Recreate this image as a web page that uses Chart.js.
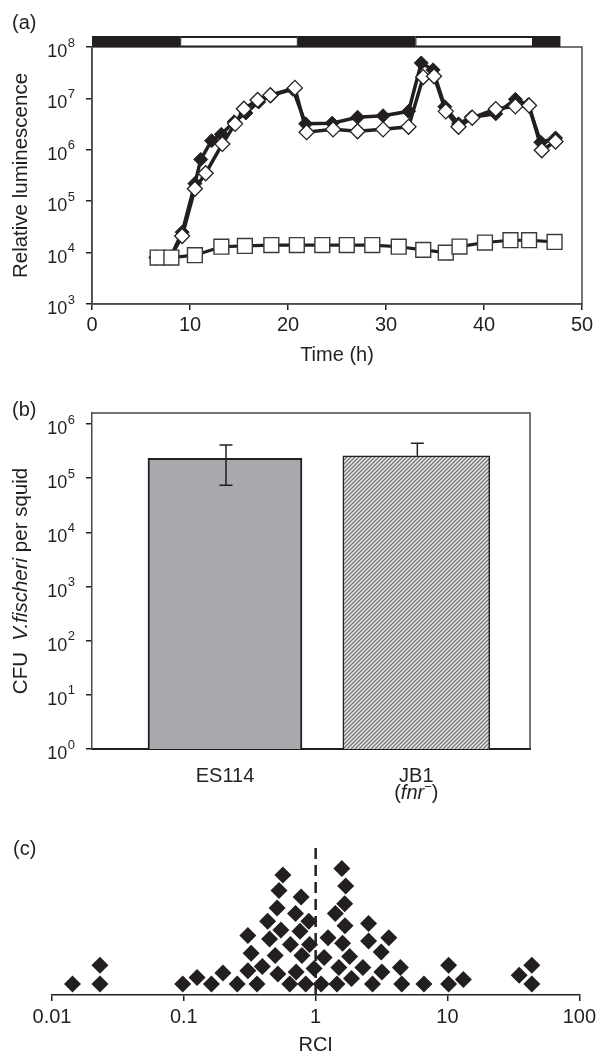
<!DOCTYPE html>
<html>
<head>
<meta charset="utf-8">
<script src="https://cdn.jsdelivr.net/npm/chart.js@4.4.0/dist/chart.umd.min.js"></script>
<style>
  html, body { margin: 0; padding: 0; background: #fff; }
  #wrap { position: relative; width: 600px; height: 1053px; overflow: hidden;
          font-family: "Liberation Sans", Arial, sans-serif; color: #231f20; }
  canvas { position: absolute; left: 0; }
  .lbl { position: absolute; font-size: 20px; line-height: 1; }
</style>
</head>
<body>
<div id="wrap">
  <canvas id="lumChart" width="600" height="372" style="top:0"></canvas>
  <canvas id="cfuChart" width="600" height="448" style="top:372px"></canvas>
  <canvas id="rciChart" width="600" height="233" style="top:820px"></canvas>
  <div class="lbl" style="left:12px;top:12px">(a)</div>
  <div class="lbl" style="left:12px;top:399px">(b)</div>
  <div class="lbl" style="left:13px;top:838px">(c)</div>
</div>
<script>
const INK = "#231f20";
const AXIS = "#4a4a4a";
const FONT = '"Liberation Sans", Arial, sans-serif';

// ---- (a) luminescence vs time ----
const lumTimeFilled = [6.6, 8.0, 9.2, 10.5, 11.1, 12.2, 13.2, 14.5, 15.7, 17.0, 18.3, 20.5, 21.8, 24.5, 27.1, 29.7, 32.3, 33.6, 34.8, 36.0, 37.4, 38.7, 41.2, 43.2, 44.5, 45.8, 47.3];
const lumFilled = [8e3, 8e3, 2.5e4, 2.2e5, 6.5e5, 1.5e6, 2.0e6, 3.5e6, 5.2e6, 8.5e6, 1.15e7, 1.5e7, 3.2e6, 3.3e6, 4.3e6, 4.6e6, 5.6e6, 4.9e7, 3.6e7, 6.9e6, 3.2e6, 4.3e6, 5.0e6, 9.6e6, 7.5e6, 1.4e6, 1.7e6];
const lumTimeOpen = [6.6, 8.0, 9.2, 10.5, 11.6, 13.3, 14.6, 15.5, 16.9, 18.2, 20.7, 21.9, 24.6, 27.1, 29.7, 32.3, 33.8, 34.9, 36.1, 37.4, 38.8, 41.2, 43.2, 44.6, 45.9, 47.3];
const lumOpen = [8e3, 8e3, 2.1e4, 1.75e5, 3.5e5, 1.3e6, 3.2e6, 6.3e6, 9.3e6, 1.15e7, 1.6e7, 2.2e6, 2.5e6, 2.3e6, 2.5e6, 2.8e6, 2.6e7, 2.7e7, 5.6e6, 2.8e6, 4.2e6, 6.2e6, 7.0e6, 7.3e6, 9.8e5, 1.45e6];
const lumTimeSquare = [6.7, 8.1, 10.5, 13.2, 15.6, 18.3, 20.9, 23.5, 26.0, 28.6, 31.3, 33.8, 36.1, 37.5, 40.1, 42.7, 44.6, 47.2];
const lumSquare = [8000, 8000, 8900, 13000, 13500, 14000, 14000, 14000, 14000, 14000, 13000, 11300, 10000, 13100, 15700, 17400, 17400, 16100];
const lumTicksY = [1e3, 1e4, 1e5, 1e6, 1e7, 1e8];
const darkStart = [0, 21, 45];
const darkEnd = [9, 33, 47.8];
const lightStart = [9, 33];
const lightEnd = [21, 45];

// ---- (b) colonization ----
const strains = ["ES114", "JB1"];
const cfuMean = [2.33e5, 2.6e5];
const cfuHigh = [4.1e5, 4.4e5];
const cfuLow = [7.4e4, null];
const cfuTicksY = [1, 10, 100, 1e3, 1e4, 1e5, 1e6];

// ---- (c) competitive index ----
const rciValues = [0.0143, 0.0231, 0.0231, 0.098, 0.126, 0.162, 0.198, 0.254, 0.306, 0.324, 0.306, 0.359, 0.394, 0.432, 0.447, 0.493, 0.51, 0.517, 0.527, 0.545, 0.564, 0.636, 0.644, 0.703, 0.711, 0.761, 0.776, 0.787, 0.841, 0.887, 0.899, 0.973, 1.10, 1.16, 1.24, 1.41, 1.45, 1.50, 1.58, 1.60, 1.66, 1.67, 1.69, 1.81, 1.87, 2.28, 2.52, 2.52, 2.70, 3.14, 3.18, 3.59, 4.39, 4.50, 6.63, 10.2, 10.2, 13.2, 35.0, 43.6, 43.6];
const rciStack = [1.0, 1.0, 2.7, 1.0, 1.6, 1.0, 2.0, 1.0, 2.2, 3.8, 5.4, 1.0, 2.6, 6.7, 5.1, 3.6, 7.9, 1.9, 9.5, 5.9, 10.9, 1.0, 4.6, 7.4, 2.1, 5.8, 8.9, 3.6, 1.0, 6.7, 4.6, 2.4, 1.0, 3.4, 5.2, 7.4, 1.0, 2.5, 11.5, 4.7, 8.3, 6.3, 9.9, 3.5, 1.5, 2.5, 4.9, 6.5, 1.0, 3.9, 2.1, 5.2, 2.5, 1.0, 1.0, 1.0, 2.7, 1.4, 1.8, 1.0, 2.7];
const rciRefX = [1, 1];
const rciRefY = [0, 13.8];
const rciTicksX = [0.01, 0.1, 1, 10, 100];
const rciTickLabels = ["0.01", "0.1", "1", "10", "100"];

const pts = (xs, ys) => xs.map((x, i) => ({ x, y: ys[i] }));
const tickFont = { family: FONT, size: 20 };
const titleFont = { family: FONT, size: 20 };
const tickGrid = { display: true, drawOnChartArea: false, drawTicks: true, tickLength: 6, color: INK, lineWidth: 1.5 };
const axisBorder = { display: true, color: AXIS, width: 1.5 };
const base = {
  responsive: false, animation: false, events: [],
  plugins: { legend: { display: false }, tooltip: { enabled: false } }
};

// "10" with a raised exponent for every tick of a log axis
function drawPowTicks(chart, id) {
  const s = chart.scales[id];
  const ctx = chart.ctx;
  ctx.save();
  ctx.fillStyle = INK;
  ctx.textAlign = "right";
  ctx.textBaseline = "alphabetic";
  for (const t of s.ticks) {
    const y = s.getPixelForValue(t.value);
    const e = String(Math.round(Math.log10(t.value)));
    const right = s.right - 17;
    ctx.font = "13px " + FONT;
    const ew = ctx.measureText(e).width;
    ctx.fillText(e, right, y - 0.5);
    ctx.font = "18px " + FONT;
    ctx.fillText("10", right - ew - 0.5, y + 10);
  }
  ctx.restore();
}

// a run of text pieces (some italic / raised) centred on a point
function drawPieces(ctx, pieces, cx, cy, size, rotate) {
  ctx.save();
  ctx.translate(cx, cy);
  if (rotate) ctx.rotate(-Math.PI / 2);
  ctx.textBaseline = "middle";
  ctx.textAlign = "left";
  let total = 0;
  for (const p of pieces) {
    ctx.font = (p.italic ? "italic " : "") + (p.size || size) + "px " + FONT;
    p.w = ctx.measureText(p.text).width;
    total += p.w;
  }
  let x = -total / 2;
  for (const p of pieces) {
    ctx.font = (p.italic ? "italic " : "") + (p.size || size) + "px " + FONT;
    ctx.fillStyle = INK;
    ctx.fillText(p.text, x, p.dy || 0);
    x += p.w;
  }
  ctx.restore();
}

const lumDecor = {
  id: "lumDecor",
  beforeDatasetsDraw(chart) {
    const { ctx, chartArea: a, scales: { x } } = chart;
    ctx.save();
    ctx.strokeStyle = AXIS;
    ctx.lineWidth = 1.5;
    ctx.strokeRect(a.left, a.top, a.right - a.left, a.bottom - a.top);
    const top = a.top - 11;
    ctx.fillStyle = INK;
    darkStart.forEach((s, i) => {
      const x0 = x.getPixelForValue(s), x1 = x.getPixelForValue(darkEnd[i]);
      ctx.fillRect(x0, top, x1 - x0, 11);
    });
    lightStart.forEach((s, i) => {
      const x0 = x.getPixelForValue(s), x1 = x.getPixelForValue(lightEnd[i]);
      ctx.fillStyle = INK;
      ctx.fillRect(x0, top, x1 - x0, 11);
      ctx.fillStyle = "#fff";
      ctx.fillRect(x0 + 1, top + 2, x1 - x0 - 2, 7.5);
    });
    ctx.restore();
  },
  afterDraw(chart) { drawPowTicks(chart, "y"); }
};

new Chart(document.getElementById("lumChart"), {
  type: "line",
  data: {
    datasets: [
      { data: pts(lumTimeSquare, lumSquare), borderColor: INK, borderWidth: 3.2, pointStyle: "rect", pointRadius: 10.5,
        pointBackgroundColor: "#fff", pointBorderColor: "#3a3a3a", pointBorderWidth: 1.4 },
      { data: pts(lumTimeOpen, lumOpen), borderColor: INK, borderWidth: 3.5, pointStyle: "rectRot", pointRadius: 7.5,
        pointBackgroundColor: "#fff", pointBorderColor: INK, pointBorderWidth: 1.3 },
      { data: pts(lumTimeFilled, lumFilled), borderColor: INK, borderWidth: 3.5, pointStyle: "rectRot", pointRadius: 7,
        pointBackgroundColor: INK, pointBorderColor: INK, pointBorderWidth: 1 }
    ]
  },
  options: {
    ...base,
    layout: { padding: { top: 47, right: 18, left: 0, bottom: 0 } },
    elements: { line: { tension: 0 } },
    scales: {
      x: {
        type: "linear", min: 0, max: 50,
        afterFit: s => { s.height = 68; },
        ticks: { stepSize: 10, color: INK, font: tickFont, padding: 3, maxRotation: 0 },
        grid: tickGrid, border: axisBorder,
        title: { display: true, text: "Time (h)", color: INK, font: titleFont, padding: { top: 0, bottom: 5 } }
      },
      y: {
        type: "logarithmic", min: 1e3, max: 1e8,
        afterFit: s => { s.width = 92; },
        afterBuildTicks: s => { s.ticks = lumTicksY.map(v => ({ value: v })); },
        ticks: { display: false },
        grid: tickGrid, border: axisBorder,
        title: { display: true, text: "Relative luminescence", color: INK, font: { family: FONT, size: 20.5 }, padding: { top: 9, bottom: 0 } }
      }
    }
  },
  plugins: [lumDecor]
});

// hatched fill for the fnr mutant
const hatch = (() => {
  const c = document.createElement("canvas");
  c.width = 4; c.height = 4;
  const g = c.getContext("2d");
  g.fillStyle = "#ececec";
  g.fillRect(0, 0, 4, 4);
  g.strokeStyle = "#777";
  g.lineWidth = 1.4;
  g.beginPath();
  g.moveTo(-1, 1); g.lineTo(1, -1);
  g.moveTo(0, 4); g.lineTo(4, 0);
  g.moveTo(3, 5); g.lineTo(5, 3);
  g.stroke();
  return g.createPattern(c, "repeat");
})();

const cfuDecor = {
  id: "cfuDecor",
  afterDatasetsDraw(chart) {
    const { ctx, chartArea: a, scales: { x, y } } = chart;
    ctx.save();
    ctx.strokeStyle = AXIS;
    ctx.lineWidth = 1.5;
    ctx.beginPath();
    ctx.moveTo(a.left, a.top); ctx.lineTo(a.right, a.top); ctx.lineTo(a.right, a.bottom);
    ctx.stroke();
    ctx.strokeStyle = INK;
    strains.forEach((s, i) => {
      const cx = x.getPixelForValue(i) + 1;
      const yHi = y.getPixelForValue(cfuHigh[i]);
      const yLo = y.getPixelForValue(cfuLow[i] != null ? cfuLow[i] : cfuMean[i]);
      ctx.beginPath();
      ctx.moveTo(cx, yLo); ctx.lineTo(cx, yHi);
      ctx.moveTo(cx - 6.5, yHi); ctx.lineTo(cx + 6.5, yHi);
      if (cfuLow[i] != null) { ctx.moveTo(cx - 6.5, yLo); ctx.lineTo(cx + 6.5, yLo); }
      ctx.stroke();
    });
    ctx.restore();
    drawPieces(ctx, [{ text: "CFU  " }, { text: "V.fischeri", italic: true }, { text: " per squid" }],
      21, (a.top + a.bottom) / 2, 20.5, true);
    drawPieces(ctx, [{ text: "(" }, { text: "fnr", italic: true }, { text: "\u2212", size: 13, dy: -6 }, { text: ")" }],
      x.getPixelForValue(1), a.bottom + 44, 20, false);
  },
  afterDraw(chart) { drawPowTicks(chart, "y"); }
};

new Chart(document.getElementById("cfuChart"), {
  type: "bar",
  data: {
    datasets: strains.map((s, i) => ({
      label: s,
      data: [{ x: i, y: cfuMean[i] }],
      backgroundColor: i === 0 ? "#a7a9ac" : hatch,
      borderColor: INK, borderWidth: i === 0 ? 2 : 1.6,
      barThickness: i === 0 ? 154 : 147,
      grouped: false
    }))
  },
  options: {
    ...base,
    layout: { padding: { top: 41, right: 70, left: 0, bottom: 0 } },
    scales: {
      x: {
        type: "linear", min: -0.695, max: 1.594, offset: false,
        afterFit: s => { s.height = 71; },
        afterBuildTicks: s => { s.ticks = strains.map((c, i) => ({ value: i })); },
        ticks: { callback: v => strains[v], color: INK, font: tickFont, padding: 7, maxRotation: 0 },
        grid: { display: false }, border: { display: true, color: INK, width: 2 }
      },
      y: {
        type: "logarithmic", min: 1, max: 1.6e6,
        afterFit: s => { s.width = 92; },
        afterBuildTicks: s => { s.ticks = cfuTicksY.map(v => ({ value: v })); },
        ticks: { display: false },
        grid: tickGrid, border: axisBorder
      }
    }
  },
  plugins: [cfuDecor]
});

new Chart(document.getElementById("rciChart"), {
  data: {
    datasets: [
      { type: "scatter", data: pts(rciValues, rciStack), pointStyle: "rectRot", pointRadius: 8.5,
        pointBackgroundColor: INK, pointBorderColor: INK, pointBorderWidth: 0 },
      { type: "line", data: pts(rciRefX, rciRefY), borderColor: INK, borderWidth: 2.5,
        borderDash: [11, 6], pointRadius: 0 }
    ]
  },
  options: {
    ...base,
    layout: { padding: { top: 21, right: 18, left: 52, bottom: 0 } },
    scales: {
      x: {
        type: "logarithmic", min: 0.01, max: 100,
        afterFit: s => { s.height = 58; },
        afterBuildTicks: s => { s.ticks = rciTicksX.map(v => ({ value: v })); },
        ticks: { callback: v => rciTickLabels[rciTicksX.indexOf(v)], color: INK, font: tickFont, padding: 4, maxRotation: 0 },
        grid: tickGrid, border: { display: true, color: INK, width: 1.5 },
        title: { display: true, text: "RCI", color: INK, font: { family: FONT, size: 20, lineHeight: 0.8 }, padding: { top: 0, bottom: 0 } }
      },
      y: { type: "linear", min: 0, max: 14, display: false }
    }
  }
});
</script>
</body>
</html>
